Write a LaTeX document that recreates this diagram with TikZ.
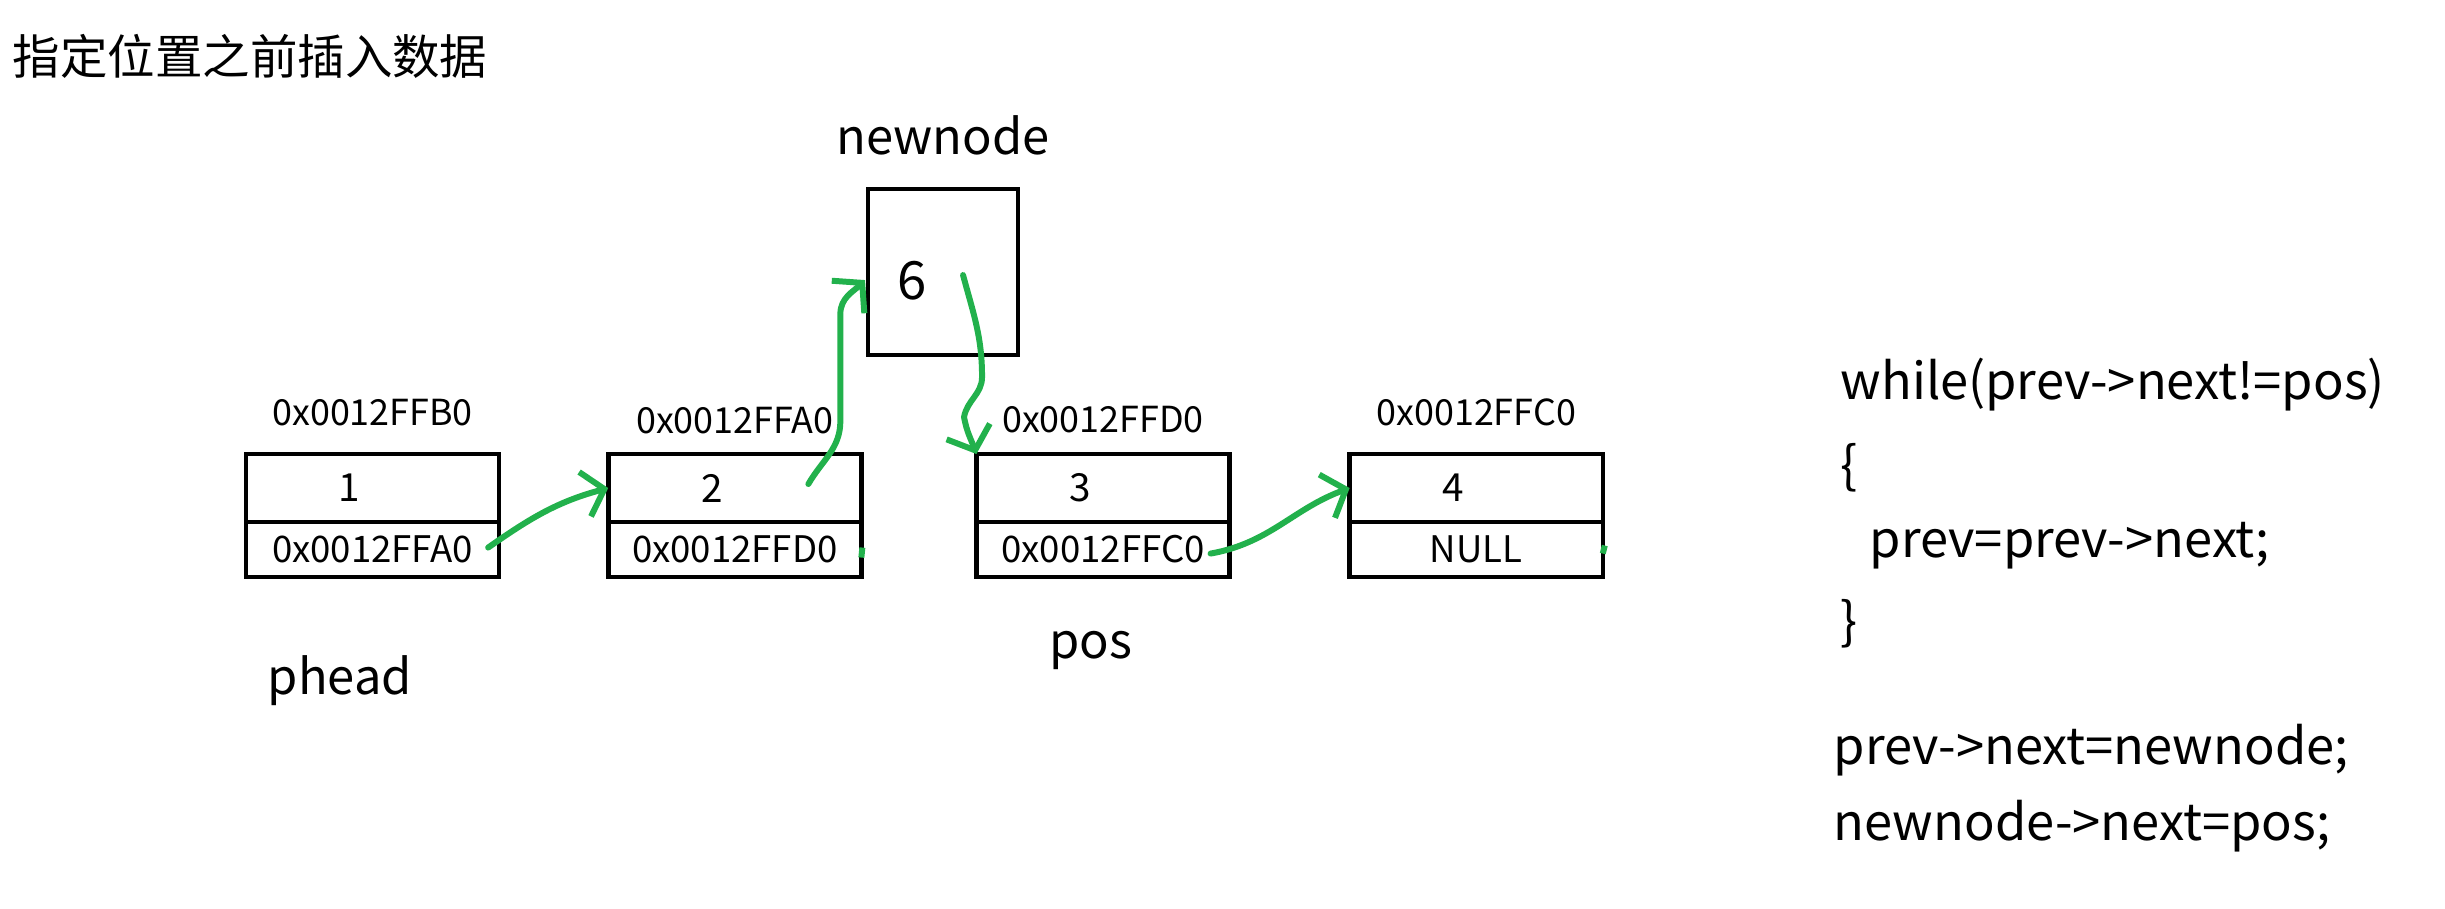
\documentclass[tikz,border=0pt]{standalone}
\usepackage{fontspec}
\setmainfont{Noto Sans CJK SC}
\usetikzlibrary{arrows.meta,positioning,calc}
\definecolor{ink-green}{HTML}{22B14C}
\tikzset{
  datacell/.style={
    rectangle, draw=black, line width=1.3pt,
    outer sep=0pt, inner sep=0pt,
    minimum width=2.53cm, minimum height=0.68cm
  },
  nextcell/.style={
    rectangle, draw=black, line width=1.3pt,
    outer sep=0pt, inner sep=0pt,
    minimum width=2.53cm, minimum height=0.55cm,
    font=\fontsize{10.4}{13}\selectfont
  },
  cellval/.style={
    label={[font=\fontsize{11}{13}\selectfont, xshift=-0.23cm]center:#1}
  },
  addr/.style={font=\fontsize{10.2}{13}\selectfont, inner sep=0pt},
  tag/.style={font=\fontsize{13.9}{16}\selectfont, inner sep=0pt},
  codeline/.style={font=\fontsize{14.4}{17}\selectfont, anchor=west, inner sep=0pt},
  link/.style={
    draw=ink-green, line width=1.7pt, line cap=round, line join=round,
    -{Straight Barb[length=0.2cm,width=0.46cm]}
  },
}

\begin{document}
\begin{tikzpicture}[x=0.01cm, y=0.01cm]
  \useasboundingbox (0,0) rectangle (2445,-908);

  \node[anchor=west, inner sep=0pt, font=\fontsize{13.5}{16}\selectfont] (title) at (12,-56) {指定位置之前插入数据};

  % list nodes
  \node[datacell, cellval=1, anchor=north west] (d1) at (246,-454) {};
  \node[nextcell, below=0pt of d1] (n1) {0x0012FFA0};
  \node[datacell, cellval=2, right=1.09cm of d1] (d2) {};
  \node[nextcell, below=0pt of d2] (n2) {0x0012FFD0};
  \node[datacell, cellval=3, right=1.15cm of d2] (d3) {};
  \node[nextcell, below=0pt of d3] (n3) {0x0012FFC0};
  \node[datacell, cellval=4, right=1.2cm of d3] (d4) {};
  \node[nextcell, below=0pt of d4] (n4) {NULL};

  \node[addr, above=0.27cm of d1] (a1) {0x0012FFB0};
  \node[addr, above=0.19cm of d2] (a2) {0x0012FFA0};
  \node[addr, above=0.2cm of d3]  (a3) {0x0012FFD0};
  \node[addr, above=0.27cm of d4] (a4) {0x0012FFC0};

  \node[tag] (phead) at (340,-681) {phead};
  \node[tag] (pos) at (1091,-650) {pos};

  % the new node
  \node[draw, line width=1.3pt, outer sep=0pt, minimum width=1.5cm, minimum height=1.66cm,
        anchor=north west,
        label={[font=\fontsize{15}{18}\selectfont, xshift=-0.31cm, yshift=-0.09cm]center:6}] (nn) at (868,-189) {};
  \node[tag, above=0.33cm of nn] (nnlabel) {newnode};

  % code
  \node[codeline] (c1) at (1840,-385) {while(prev->next!=pos)};
  \node[codeline] (c2) at (1840,-468) {\{};
  \node[codeline] (c3) at (1869,-546) {prev=prev->next;};
  \node[codeline] (c4) at (1840,-624) {\}};
  \node[codeline] (c5) at (1833,-750) {prev->next=newnode;};
  \node[codeline] (c6) at (1833,-826) {newnode->next=pos;};

  % green links
  \draw[link] ($(n1.east)+(-11,2)$) to[out=35,in=195] (d2.west);
  \draw[link] ($(d2.east)+(-53,4)$) to[out=60,in=-90] ++(32,63) -- ++(0,107)
    to[out=90,in=225] ($(nn.west)+(-3,-8)$);
  \draw[link] ($(nn.center)+(20,-3)$) to[out=-75,in=90] ++(19,-102)
    to[out=-90,in=80] ++(-18,-40) to[out=-80,in=110] (d3.north west);
  \draw[link] ($(n3.east)+(-19,-4)$) to[out=10,in=200] (d4.west);
  \draw[ink-green, line width=1.7pt] ($(n2.east)+(0,-8)$) -- ++(1,10);
  \draw[ink-green, line width=1.7pt] ($(n4.east)+(0,-4)$) -- ++(2,8);
\end{tikzpicture}
\end{document}
